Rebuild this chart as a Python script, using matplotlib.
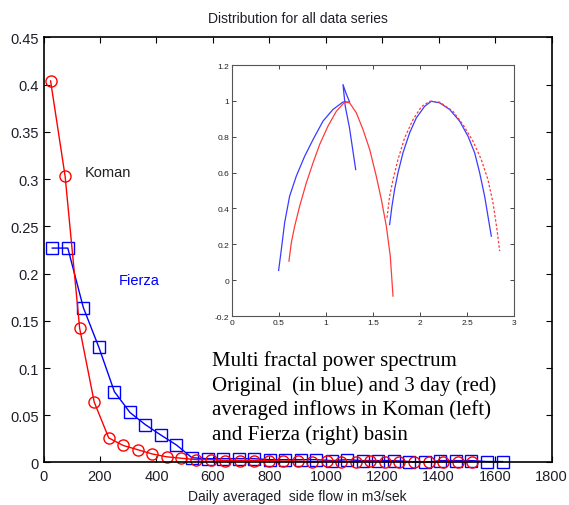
import matplotlib.pyplot as plt

# main chart: distribution of daily side flow
koman_x = [25, 76.5, 128, 179.5, 231, 282.5, 334, 385.5, 437, 488.5,
           540, 591.5, 643, 694.5, 746, 797.5, 849, 900.5, 952, 1003.5,
           1055, 1106.5, 1158, 1209.5, 1261, 1312.5, 1364, 1415.5, 1467, 1518.5]
koman_y = [0.404, 0.303, 0.142, 0.064, 0.026, 0.018, 0.0135, 0.009, 0.006, 0.0045,
           0.003, 0.003, 0.002, 0.002, 0.002, 0.002, 0.0015, 0.0015, 0.0005, 0.0015,
           0.001, 0.001, 0.0015, 0.001, 0.001, 0.0008, 0.0005, 0.001, 0.001, 0.001]

fierza_x = [31, 86, 141, 196, 251, 306, 361, 416, 471, 526,
            581, 636, 691, 746, 801, 856, 911, 966, 1021, 1076,
            1131, 1186, 1241, 1296, 1351, 1406, 1461, 1516, 1571, 1626]
fierza_y = [0.227, 0.227, 0.164, 0.122, 0.075, 0.053, 0.040, 0.029, 0.0185, 0.005,
            0.004, 0.004, 0.004, 0.004, 0.003, 0.003, 0.003, 0.003, 0.002, 0.003,
            0.002, 0.002, 0.002, 0.001, 0.0, 0.002, 0.002, 0.002, 0.001, 0.001]

xticks = [0, 200, 400, 600, 800, 1000, 1200, 1400, 1600, 1800]
yticks = [0, 0.05, 0.1, 0.15, 0.2, 0.25, 0.3, 0.35, 0.4, 0.45]
ytick_labels = ["0", "0.05", "0.1", "0.15", "0.2", "0.25", "0.3", "0.35", "0.4", "0.45"]

# inset: multifractal spectra
koman_orig_x = [0.496, 0.525, 0.560, 0.613, 0.684, 0.773, 0.862, 0.968, 1.074, 1.181,
                1.252, 1.215, 1.181, 1.205, 1.25, 1.316]
koman_orig_y = [0.054, 0.171, 0.320, 0.468, 0.580, 0.691, 0.784, 0.887, 0.952, 0.994,
                0.993, 1.04, 1.091, 0.97, 0.85, 0.617]
koman_avg_x = [0.606, 0.631, 0.667, 0.720, 0.791, 0.862, 0.933, 1.021, 1.110, 1.199,
               1.252, 1.323, 1.394, 1.465, 1.535, 1.589, 1.642, 1.684, 1.713]
koman_avg_y = [0.106, 0.208, 0.301, 0.413, 0.543, 0.654, 0.757, 0.859, 0.942, 0.994,
               0.989, 0.933, 0.840, 0.729, 0.580, 0.450, 0.301, 0.134, -0.089]
fierza_orig_x = [1.677, 1.702, 1.730, 1.766, 1.819, 1.890, 1.961, 2.050, 2.121, 2.209,
                 2.316, 2.422, 2.511, 2.582, 2.635, 2.688, 2.741, 2.759]
fierza_orig_y = [0.310, 0.413, 0.506, 0.599, 0.710, 0.822, 0.905, 0.970, 0.998, 0.989,
                 0.952, 0.887, 0.803, 0.710, 0.599, 0.468, 0.301, 0.245]
fierza_avg_x = [1.649, 1.677, 1.713, 1.766, 1.837, 1.926, 2.014, 2.103, 2.209, 2.351,
                2.457, 2.564, 2.652, 2.723, 2.777, 2.819, 2.848]
fierza_avg_y = [0.348, 0.468, 0.561, 0.673, 0.794, 0.896, 0.967, 0.998, 0.993, 0.942,
                0.868, 0.775, 0.673, 0.561, 0.431, 0.283, 0.162]

plt.rcParams['font.family'] = ['Liberation Sans', 'DejaVu Sans']
tick_col = '#1e1e28'

fig = plt.figure(figsize=(5.69, 5.06), dpi=100)
ax = fig.add_axes([0.0765, 0.084, 0.893, 0.840])

ax.plot(fierza_x, fierza_y, color='#0000ff', lw=1, marker='s', ms=8,
        mfc='none', mec='#0000ff', mew=1, clip_on=False)
ax.plot(koman_x, koman_y, color='#ff0000', lw=1, marker='o', ms=8,
        mfc='none', mec='#ff0000', mew=1, clip_on=False)

ax.set_xlim(0, 1800)
ax.set_ylim(0, 0.45)
ax.set_xticks(xticks)
ax.set_yticks(yticks)
ax.set_yticklabels(ytick_labels)
ax.tick_params(direction='in', top=True, right=True, length=4, labelsize=10.5,
               colors='#000000', labelcolor=tick_col)
ax.tick_params(axis='x', pad=5)
for s in ax.spines.values():
    s.set_linewidth(1.2)
ax.set_title("Distribution for all data series", fontsize=10, color=tick_col, pad=11)
ax.set_xlabel("Daily averaged  side flow in m3/sek", fontsize=10, color=tick_col, labelpad=4)

ax.text(147, 0.308, "Koman", fontsize=10.5, color='#202020', va='center')
ax.text(268, 0.193, "Fierza", fontsize=10.5, color='#0000ff', va='center')

fig.text(212 / 569, 1 - 398 / 506,
         "Multi fractal power spectrum\nOriginal  (in blue) and 3 day (red)\n"
         "averaged inflows in Koman (left)\nand Fierza (right) basin",
         family='Liberation Serif', fontsize=15, va='center', ha='left',
         linespacing=1.33, color='black')

ins = fig.add_axes([0.4077, 0.3735, 0.4956, 0.496])
ins.plot(koman_orig_x, koman_orig_y, color='#3b3bff', lw=0.9)
ins.plot(koman_avg_x, koman_avg_y, color='#ff3b3b', lw=0.9)
ins.plot(fierza_orig_x, fierza_orig_y, color='#3b3bff', lw=0.9)
ins.plot(fierza_avg_x, fierza_avg_y, color='#ff3b3b', lw=0.9, ls=(0, (2, 1.5)))
ins.set_xlim(0, 3)
ins.set_ylim(-0.2, 1.2)
ins.set_xticks([0, 0.5, 1, 1.5, 2, 2.5, 3])
ins.set_xticklabels(["0", "0.5", "1", "1.5", "2", "2.5", "3"])
ins.set_yticks([-0.2, 0, 0.2, 0.4, 0.6, 0.8, 1, 1.2])
ins.set_yticklabels(["-0.2", "0", "0.2", "0.4", "0.6", "0.8", "1", "1.2"])
ins.tick_params(direction='in', top=True, right=True, length=3, labelsize=6,
                pad=2, colors='#444444', labelcolor='#222222', width=0.7)
for s in ins.spines.values():
    s.set_linewidth(0.8)
    s.set_color('#555555')

fig.savefig('out.png', dpi=100)
